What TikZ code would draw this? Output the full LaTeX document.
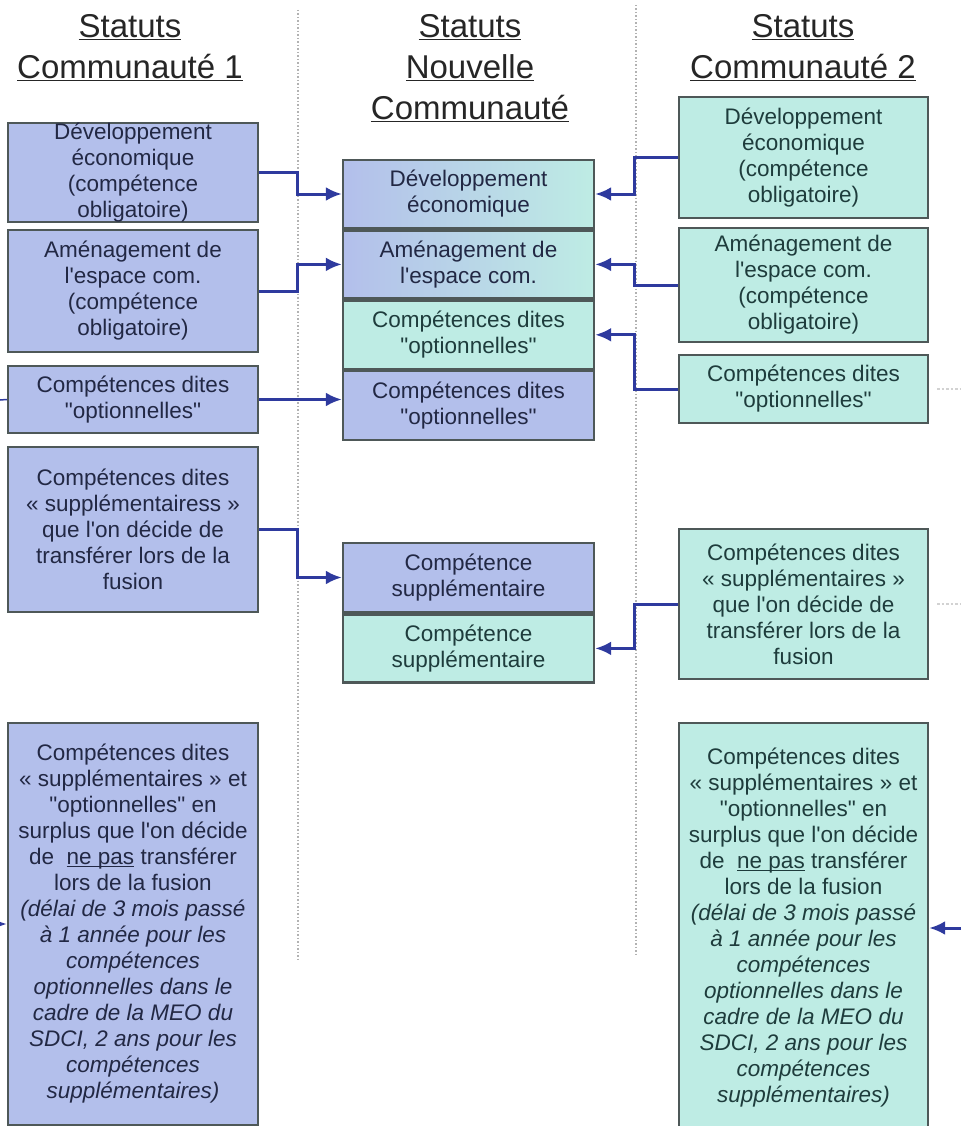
\documentclass[tikz,border=0pt]{standalone}
\usepackage{fontspec}
\setmainfont{Liberation Sans}[Ligatures=TeXOff]
\usetikzlibrary{arrows.meta,positioning}
\definecolor{bleucase}{HTML}{B3BFEB}
\definecolor{turquoise}{HTML}{BEECE4}
\definecolor{bordure}{HTML}{4E5858}
\definecolor{trait}{HTML}{2E3A9E}
\definecolor{texteb}{HTML}{222844}
\definecolor{textet}{HTML}{1E3C3C}
\newcommand{\souligne}[1]{\underline{\smash{#1}}}

\begin{document}
\begin{tikzpicture}[
    x=1pt, y=-1pt,
    node distance=0pt,
    statut/.style={
        rectangle, draw=bordure, line width=2.4pt, align=center,
        inner sep=0pt, minimum width=250pt,
        font=\fontsize{22.5}{26}\selectfont
    },
    bleu/.style={statut, fill=bleucase, text=texteb},
    turq/.style={statut, fill=turquoise, text=textet},
    degrade/.style={statut, left color=bleucase, right color=turquoise, text=texteb},
    titre/.style={align=center, font=\fontsize{33}{41}\selectfont, text=black!85},
    fleche/.style={-{Latex[length=16pt,width=14pt]}, line width=3pt, draw=trait},
    separateur/.style={dotted, line width=1.5pt, draw=gray!60},
    amorce/.style={dotted, line width=2.5pt, draw=gray!35}
]
\useasboundingbox (0,0) rectangle (961,1126);

% Titres
\node[titre] (t1) at (130,48) {\underline{Statuts}\\\underline{Communauté 1}};
\node[titre] (t2) at (470,68) {\underline{Statuts}\\\underline{Nouvelle}\\\underline{Communauté}};
\node[titre] (t3) at (803,48) {\underline{Statuts}\\\underline{Communauté 2}};

% Séparateurs
\draw[separateur] (298,10) -- (298,960);
\draw[separateur] (636,5) -- (636,955);

% Communauté 1
\node[bleu, minimum height=99pt] (l1) at (133,172.5) {Développement\\économique\\(compétence\\obligatoire)};
\node[bleu, minimum height=122pt] (l2) at (133,291) {Aménagement de\\l'espace com.\\(compétence\\obligatoire)};
\node[bleu, minimum height=67pt] (l3) at (133,399.5) {Compétences dites\\"optionnelles"};
\node[bleu, minimum height=165pt] (l4) at (133,529.5) {Compétences dites\\« supplémentairess »\\que l'on décide de\\transférer lors de la\\fusion};
\node[bleu, minimum height=402pt] (l5) at (133,924) {Compétences dites\\« supplémentaires » et\\"optionnelles" en\\surplus que l'on décide\\de~~\souligne{ne pas} transférer\\lors de la fusion\\\textit{(délai de 3 mois passé}\\\textit{à 1 année pour les}\\\textit{compétences}\\\textit{optionnelles dans le}\\\textit{cadre de la MEO du}\\\textit{SDCI, 2 ans pour les}\\\textit{compétences}\\\textit{supplémentaires)}};

% Nouvelle communauté
\node[degrade, minimum width=251pt, minimum height=68pt] (m1) at (468.5,194) {Développement\\économique};
\node[degrade, minimum width=251pt, minimum height=68pt, below=of m1] (m2) {Aménagement de\\l'espace com.};
\node[turq, minimum width=251pt, minimum height=68pt, below=of m2] (m3) {Compétences dites\\"optionnelles"};
\node[bleu, minimum width=251pt, minimum height=69pt, below=of m3] (m4) {Compétences dites\\"optionnelles"};
\node[bleu, minimum width=251pt, minimum height=69pt] (m5) at (468.5,577.5) {Compétence\\supplémentaire};
\node[turq, minimum width=251pt, minimum height=68pt, below=of m5] (m6) {Compétence\\supplémentaire};

% Communauté 2
\node[turq, minimum width=249pt, minimum height=121pt] (r1) at (803.5,157.5) {Développement\\économique\\(compétence\\obligatoire)};
\node[turq, minimum width=249pt, minimum height=114pt] (r2) at (803.5,285) {Aménagement de\\l'espace com.\\(compétence\\obligatoire)};
\node[turq, minimum width=249pt, minimum height=68pt] (r3) at (803.5,389) {Compétences dites\\"optionnelles"};
\node[turq, minimum width=249pt, minimum height=150pt] (r4) at (803.5,604) {Compétences dites\\« supplémentaires »\\que l'on décide de\\transférer lors de la\\fusion};
\node[turq, minimum width=249pt, minimum height=410pt] (r5) at (803.5,928) {Compétences dites\\« supplémentaires » et\\"optionnelles" en\\surplus que l'on décide\\de~~\souligne{ne pas} transférer\\lors de la fusion\\\textit{(délai de 3 mois passé}\\\textit{à 1 année pour les}\\\textit{compétences}\\\textit{optionnelles dans le}\\\textit{cadre de la MEO du}\\\textit{SDCI, 2 ans pour les}\\\textit{compétences}\\\textit{supplémentaires)}};

% Bords de l'image
\coordinate (bordg3) at (0,400);
\coordinate (bordg5) at (0,924);
\coordinate (bordd3) at (961,389);
\coordinate (bordd4) at (961,604);
\coordinate (bordd5) at (961,928);

% Flèches
\draw[fleche] (l1.east) -- ++(38,0) |- (m1.west);
\draw[fleche] (l2.east) -- ++(38,0) |- (m2.west);
\draw[fleche] (l3.east) -- (l3.east -| m4.west);
\draw[fleche] (l4.east) -- ++(38,0) |- (m5.west);
\draw[fleche] (r1.west) -- ++(-43,0) |- (m1.east);
\draw[fleche] (r2.west) -- ++(-43,0) |- (m2.east);
\draw[fleche] (r3.west) -- ++(-43,0) |- (m3.east);
\draw[fleche] (r4.west) -- ++(-43,0) |- (m6.east);
\draw[line width=1.5pt, draw=trait] (bordg3) -- (l3.west);
\draw[fleche] (bordg5) -- (l5.west);
\draw[amorce, shorten <=8pt] (r3.east) -- (bordd3);
\draw[amorce, shorten <=8pt] (r4.east) -- (bordd4);
\draw[fleche] (bordd5) -- (r5.east);

\end{tikzpicture}
\end{document}
